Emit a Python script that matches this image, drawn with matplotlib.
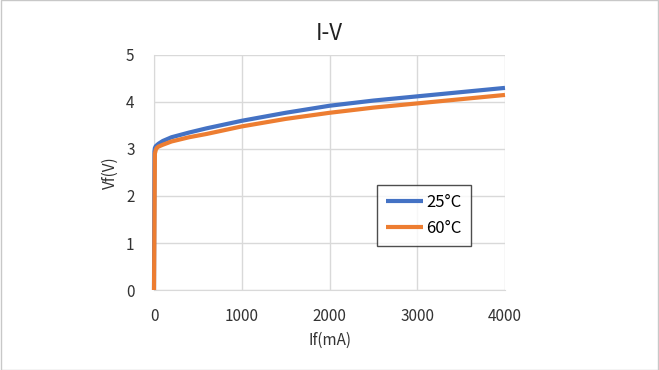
import matplotlib
matplotlib.use("Agg")
import matplotlib.pyplot as plt
from matplotlib.patches import Rectangle

plt.rcParams['font.family'] = ['Noto Sans CJK JP', 'DejaVu Sans']

# Forward current (mA) and forward voltage (V)
if_25 = [0, 5, 10, 20, 50, 100, 200, 400, 600, 1000, 1500, 2000, 2500, 3000, 3500, 4000]
vf_25 = [0, 2.95, 3.02, 3.06, 3.11, 3.17, 3.25, 3.35, 3.44, 3.60, 3.77, 3.92, 4.03, 4.12, 4.21, 4.30]
if_60 = [0, 10, 20, 30, 50, 100, 200, 400, 600, 1000, 1500, 2000, 2500, 3000, 3500, 4000]
vf_60 = [0, 2.9, 2.98, 3.02, 3.05, 3.09, 3.16, 3.25, 3.32, 3.48, 3.64, 3.77, 3.88, 3.97, 4.06, 4.15]

fig = plt.figure(figsize=(6.59, 3.70), dpi=100)
ax = fig.add_axes([0.2337, 0.2162, 0.5326, 0.6352])

ax.plot(if_25, vf_25, color='#4472C4', lw=3, label='25°C', zorder=3, clip_on=False,
        solid_capstyle='butt')
ax.plot(if_60, vf_60, color='#ED7D31', lw=3, label='60°C', zorder=3, clip_on=False,
        solid_capstyle='butt')

ax.set_xlim(0, 4000)
ax.set_ylim(0, 5)
ax.set_xticks([0, 1000, 2000, 3000, 4000])
ax.set_yticks([0, 1, 2, 3, 4, 5])
ax.grid(color='#d9d9d9', lw=1)
ax.set_axisbelow(True)
for side in ['top', 'right']:
    ax.spines[side].set_visible(False)
for side in ['left', 'bottom']:
    ax.spines[side].set_color('#d9d9d9')
ax.tick_params(length=0, labelsize=11, colors='#333333')
ax.tick_params(axis='y', pad=14)
ax.tick_params(axis='x', pad=13)

ax.set_xlabel('If(mA)', fontsize=11, color='#333333', labelpad=5)
ax.set_ylabel('Vf(V)', fontsize=11, color='#333333', labelpad=5)
fig.text(0.5, 0.91, 'I-V', ha='center', va='center', fontsize=16, color='#222222')

leg = ax.legend(loc='upper left', bbox_to_anchor=(0.635, 0.447), fontsize=12,
                frameon=True, fancybox=False, handlelength=2.2, borderpad=0.55,
                labelspacing=0.55, handletextpad=0.2, borderaxespad=0)
leg.get_frame().set_edgecolor('#222222')
leg.get_frame().set_linewidth(1)
leg.set_zorder(5)

# thin border around the whole image
fig.add_artist(Rectangle((0.0008, 0.0013), 0.9984, 0.9974, transform=fig.transFigure,
                         fill=False, edgecolor='#c8c8c8', lw=1))

fig.savefig('out.png', dpi=100)
